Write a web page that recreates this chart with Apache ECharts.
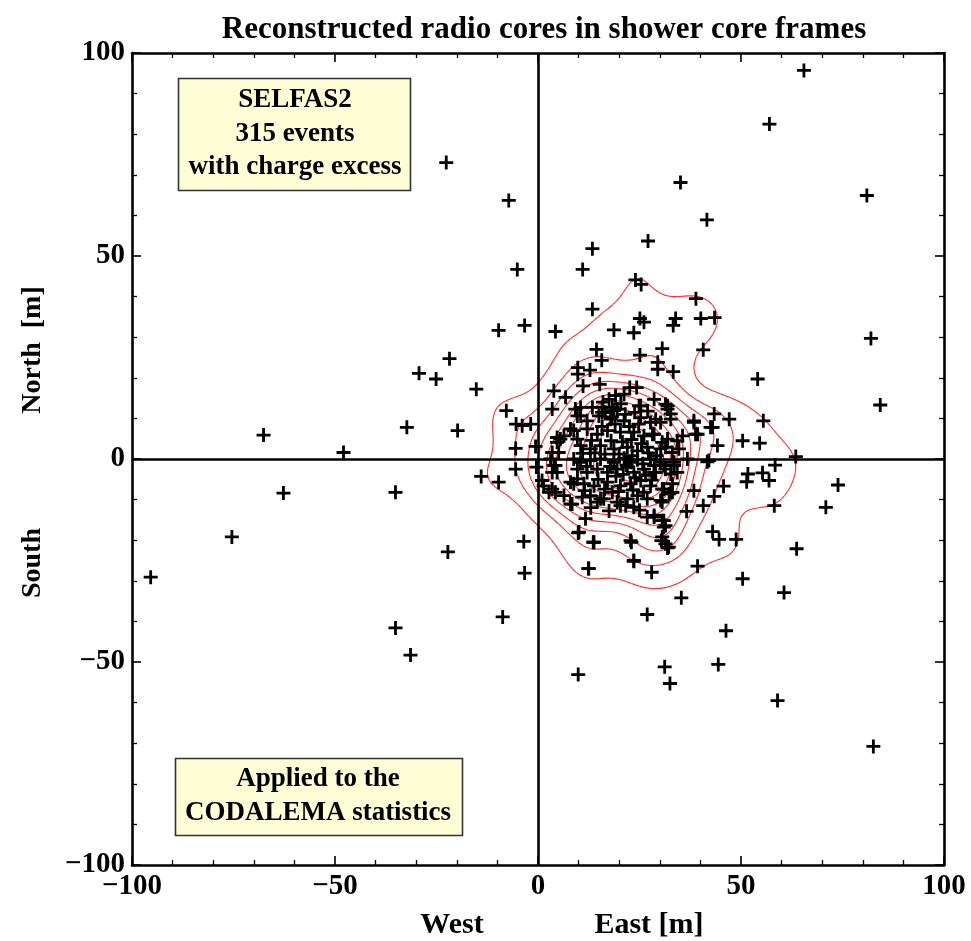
<!DOCTYPE html>
<html><head><meta charset="utf-8">
<script src="https://cdn.jsdelivr.net/npm/echarts@6/dist/echarts.min.js"></script>
<style>html,body{margin:0;padding:0;background:#fff}#c{width:971px;height:941px}</style>
</head><body><div id="c"></div>
<script>
// Axis ranges / ticks
const axisMin = -100, axisMax = 100, majorStep = 50;
// Reconstructed radio core positions [East m, North m] — outer region
const coresWest = [
[-22.6,73.0],[-7.2,63.7],[-5.1,46.7],[-9.7,31.7],[-3.3,32.9],[-21.8,24.7],[-29.3,21.1],[-25.1,19.7],[-15.2,17.2],[-7.8,11.9],
[-5.4,8.6],[-3.9,8.2],[-1.8,8.6],[-32.3,7.8],[-19.8,7.0],[-67.6,5.9],[-47.9,1.6],[-5.5,2.6],[-0.6,3.1],
[-14.0,-4.3],[-9.7,-5.7],[-5.5,-2.5],[-0.4,-2.0],[-62.7,-8.4],[-35.1,-8.2],[-75.4,-19.2],[-22.2,-22.9],[-3.5,-20.3],
[-3.3,-28.1],[-95.4,-29.1],[-8.7,-38.9],[-35.1,-41.6],[-31.4,-48.3]
];
const coresNorthEast = [
[4.3,31.4],[65.5,95.7],[57.0,82.5],[35.1,68.1],[81.0,64.9],[41.6,58.9],[27.1,53.7],[13.4,51.8],[11.0,46.7],[24.0,44.1],
[25.4,43.0],[38.9,39.5],[13.4,36.9],[25.1,34.6],[26.1,33.7],[33.9,34.6],[33.3,32.9],[40.1,34.6],[43.5,34.8],[18.7,31.8],
[23.6,31.1],[82.0,29.7],[14.4,27.0],[30.6,27.2],[40.7,26.9],[25.1,25.6],[15.7,24.3],[29.5,23.8],[29.5,22.1],[33.3,21.5],
[9.8,22.5],[12.8,21.9],[9.8,20.9],[54.1,19.7],[84.3,13.3],[3.9,16.8],[6.8,15.2],[3.5,12.3],[11.1,18.0],[15.2,18.4],
[22.6,17.6],[24.3,17.6],[28.6,14.7],[31.9,13.1],[43.4,11.1],[47.1,9.8],[55.5,9.4],[50.4,4.5],[54.6,3.9],[63.5,0.6],
[38.4,9.0],[43.0,7.8],[44.2,3.3],[38.8,6.1],[35.6,5.7],[5.5,4.9],[3.5,1.6],[5.1,1.6]
];
const coresSouthEast = [
[58.4,-1.5],[51.7,-3.7],[51.4,-5.6],[55.3,-3.4],[56.9,-5.3],[73.9,-6.4],[70.9,-11.9],[58.2,-11.5],[45.7,-6.7],[43.4,-9.2],
[40.7,-11.5],[38.4,-7.8],[36.6,-12.9],[41.7,-0.7],[63.7,-22.1],[48.8,-19.8],[44.6,-19.8],[43.0,-17.9],[39.3,-26.4],[50.4,-29.5],
[60.6,-32.9],[35.3,-34.2],[26.9,-38.3],[46.3,-42.3],[44.4,-50.6],[31.2,-51.2],[32.5,-55.3],[9.9,-53.1],[59.0,-59.5],[82.6,-70.8],
[12.4,-27.0],[28.0,-27.9],[23.6,-25.2],[23.0,-20.5],[13.6,-20.5],[9.9,-18.2],[30.4,-20.1],[31.9,-21.9],[31.0,-16.8],[30.6,-15.2],
[28.6,-14.3],[11.7,-14.7],[8.0,-11.1],[32.3,-8.6],[33.1,-8.2],[30.2,-10.2]
];
// Dense central cluster
const coresCentral = [
[19.1,15.6],[17.5,14.7],[21.2,16.0],
[15.8,12.7],[18.3,12.7],[19.5,12.3],[16.6,11.5],[24.9,13.1],[31.9,12.3],[10.5,12.7],[9.2,12.3],[13.4,12.7],[25.3,13.1],[18.7,11.9],[15.8,11.5],
[9.7,10.6],[12.1,9.4],[15.0,10.6],[17.9,9.8],[21.2,9.4],[25.3,10.2],[27.7,9.0],[30.2,9.0],[32.7,11.1],[32.7,9.8],[29.0,9.8],[38.4,9.4],[31.4,13.5],
[6.4,5.7],[8.8,7.0],[12.1,7.4],[14.6,6.1],[17.1,7.0],[20.3,6.6],[23.6,6.6],[26.1,5.7],[28.6,6.1],[31.9,4.9],[34.3,4.5],[28.2,6.1],[39.3,6.1],[42.5,7.8],
[4.7,4.1],[10.5,3.3],[12.9,2.5],[15.4,3.3],[18.7,2.5],[22.0,2.9],[24.5,2.0],[26.9,2.9],[30.2,2.5],[33.1,1.6],[30.6,4.1],[31.4,2.9],[34.7,2.5],[4.7,5.3],[8.0,7.4],[9.7,4.9],[10.5,10.6],
[3.1,0.0],[8.8,0.0],[10.5,-0.8],[12.9,-0.4],[15.4,0.0],[18.7,-0.8],[21.2,0.2],[22.8,-0.8],[24.5,-0.2],[27.7,0.0],[30.2,-0.8],[33.5,-0.8],[36.8,0.0],[42.1,-0.4],
[9.7,-2.5],[12.1,-3.3],[14.6,-2.5],[17.1,-3.3],[19.5,-2.5],[22.0,-2.0],[23.6,-3.3],[26.1,-2.5],[28.6,-3.3],[31.4,-2.5],[34.3,-3.3],[9.7,-4.9],[28.6,-1.6],[31.0,-1.6],[33.5,-1.6],[29.0,-3.3],[32.7,-3.7],[3.9,-1.6],[3.5,-3.3],[4.3,-1.6],[4.7,-3.3],
[8.0,-5.7],[11.3,-6.1],[13.8,-6.6],[17.1,-5.7],[20.3,-6.6],[22.8,-6.1],[25.3,-5.3],[27.7,-6.6],[30.6,-7.4],[33.1,-6.1],[1.0,-5.3],[1.4,-6.6],[3.5,-7.4],[2.7,-8.2],[4.3,-8.2],[8.8,-6.1],[31.0,-7.4],[32.7,-8.2],
[6.4,-9.0],[12.9,-9.0],[16.2,-9.8],[19.5,-10.6],[22.0,-9.8],[24.5,-9.0],[26.9,-9.8],[18.3,-8.2],[10.9,-9.4],[8.4,-11.1],[15.4,-9.8],[30.6,-10.6],[14.6,-10.6],
[20.3,-11.5],[23.6,-11.9],[21.6,-11.5],[26.9,-14.3],[31.0,-15.2],[31.4,-16.4],[10.1,-18.0],[13.8,-20.5],[22.8,-20.1],[23.6,-25.0],[12.5,-27.0],[28.6,-13.9],[30.6,-19.2],[31.4,-20.9],[32.2,-21.7],
[20.0,1.2],[21.8,-1.5],[23.2,0.8],[25.8,-1.2],[19.2,-4.2],[21.0,-3.8],[24.0,-4.6],[26.5,-4.0],[18.0,4.5],[20.8,4.2],
[23.0,4.8],[25.5,3.8],[16.5,1.2],[14.0,1.5],[17.8,-1.8],[27.2,1.5],[29.2,0.8],[13.2,4.6],[15.8,8.0],[19.0,8.6],
[22.5,8.0],[24.8,8.6],[16.4,-7.4],[19.8,-8.0],[23.4,-7.6],[26.0,-8.2],[12.0,-1.8],[11.0,1.4],[14.8,-5.0],[28.0,-5.2],
[21.5,11.0],[18.2,10.4],[23.8,11.5],[27.0,11.8],[16.0,14.0],[20.4,13.6],[13.0,-12.0],[17.5,-12.8],[25.0,-12.6],[11.5,-7.8]
];
// Density contour levels (fraction of peak density) and kernel bandwidth [m]
const contourLevels = [0.07,0.165,0.26,0.355,0.45,0.545,0.64,0.735,0.83,0.925];
const kernelBandwidth = 5.0;

const cores = coresWest.concat(coresNorthEast, coresSouthEast, coresCentral);

// Kernel density estimate on a grid, then marching squares -> segments
function contourSegments(pts){
  const gx0=-45, gx1=95, gy0=-65, gy1=75, st=1;
  const nx=Math.round((gx1-gx0)/st)+1, ny=Math.round((gy1-gy0)/st)+1;
  const h2=2*kernelBandwidth*kernelBandwidth;
  const g=[]; let mx=0;
  for(let j=0;j<ny;j++){ const row=[]; const y=gy0+j*st;
    for(let i=0;i<nx;i++){ const x=gx0+i*st; let s=0;
      for(const p of pts){ const dx=x-p[0], dy=y-p[1]; const d=dx*dx+dy*dy; if(d<900) s+=Math.exp(-d/h2); }
      row.push(s); if(s>mx) mx=s; }
    g.push(row); }
  const segs=[];
  const table={1:[[3,0]],2:[[0,1]],3:[[3,1]],4:[[1,2]],5:[[3,0],[1,2]],6:[[0,2]],7:[[3,2]],8:[[2,3]],9:[[0,2]],10:[[0,1],[2,3]],11:[[1,2]],12:[[1,3]],13:[[0,1]],14:[[3,0]]};
  for(const f of contourLevels){ const L=f*mx;
    for(let j=0;j<ny-1;j++) for(let i=0;i<nx-1;i++){
      const v0=g[j][i], v1=g[j][i+1], v2=g[j+1][i+1], v3=g[j+1][i];
      const idx=(v0>=L?1:0)|(v1>=L?2:0)|(v2>=L?4:0)|(v3>=L?8:0);
      const t=table[idx]; if(!t) continue;
      const x0=gx0+i*st, y0=gy0+j*st, x1=x0+st, y1=y0+st;
      const ep=e=>{ let a,b,pa,pb;
        if(e===0){a=v0;b=v1;pa=[x0,y0];pb=[x1,y0];}
        else if(e===1){a=v1;b=v2;pa=[x1,y0];pb=[x1,y1];}
        else if(e===2){a=v3;b=v2;pa=[x0,y1];pb=[x1,y1];}
        else {a=v0;b=v3;pa=[x0,y0];pb=[x0,y1];}
        const k=(L-a)/(b-a); return [pa[0]+(pb[0]-pa[0])*k, pa[1]+(pb[1]-pa[1])*k]; };
      for(const s of t){ const p=ep(s[0]), q=ep(s[1]); segs.push([p[0],p[1],q[0],q[1]]); }
    }
  }
  return segs;
}
const segs = contourSegments(cores);

const FONT = '"Liberation Serif","Times New Roman",serif';
const fmt = v => v<0 ? '\u2212'+Math.abs(v) : String(v);
const baseAxis = {
  type:'value', min:axisMin, max:axisMax, interval:majorStep,
  axisLine:{show:true, onZero:false, lineStyle:{color:'#000', width:2.6}},
  axisTick:{show:true, inside:true, length:9, lineStyle:{color:'#000', width:1.6}},
  minorTick:{show:true, splitNumber:5, length:5, lineStyle:{color:'#000', width:1.3}},
  splitLine:{show:false},
  axisLabel:{show:true, color:'#000', fontFamily:FONT, fontWeight:'bold', fontSize:29, formatter:fmt}
};
const chart = echarts.init(document.getElementById('c'), null, {renderer:'canvas'});
chart.setOption({
  animation:false,
  backgroundColor:'#fff',
  title:{text:'Reconstructed radio cores in shower core frames', left:539, textAlign:'center', top:9,
    textStyle:{fontFamily:FONT, fontWeight:'bold', fontSize:31, color:'#000'}},
  grid:{left:132, right:27, top:53, bottom:76, containLabel:false},
  xAxis:[
    Object.assign({}, baseAxis, {position:'bottom', axisLabel:Object.assign({}, baseAxis.axisLabel, {margin:7})}),
    Object.assign({}, baseAxis, {position:'top', axisLabel:{show:false}})
  ],
  yAxis:[
    Object.assign({}, baseAxis, {position:'left', axisLabel:Object.assign({}, baseAxis.axisLabel, {margin:7})}),
    Object.assign({}, baseAxis, {position:'right', axisLabel:{show:false}})
  ],
  graphic:[
    {type:'text', style:{text:'North  [m]', fontFamily:FONT, fontWeight:'bold', fontSize:28, fill:'#000', align:'center', verticalAlign:'middle'}, x:33, y:350, rotation:Math.PI/2},
    {type:'text', style:{text:'South', fontFamily:FONT, fontWeight:'bold', fontSize:28, fill:'#000', align:'center', verticalAlign:'middle'}, x:33, y:563, rotation:Math.PI/2},
    {type:'text', style:{text:'West', fontFamily:FONT, fontWeight:'bold', fontSize:30, fill:'#000', align:'center', verticalAlign:'middle'}, x:452, y:925},
    {type:'text', style:{text:'East [m]', fontFamily:FONT, fontWeight:'bold', fontSize:30, fill:'#000', align:'center', verticalAlign:'middle'}, x:649, y:925},
    {type:'rect', shape:{x:178.5, y:78.5, width:232, height:112}, style:{fill:'#fdfdd6', stroke:'#333', lineWidth:1.6}, z:10},
    {type:'text', style:{text:'SELFAS2\n315 events\nwith charge excess', fontFamily:FONT, fontWeight:'bold', fontSize:27, lineHeight:33.5, fill:'#000', align:'center', verticalAlign:'middle'}, x:295, y:134, z:11},
    {type:'rect', shape:{x:175.5, y:758.5, width:287, height:77}, style:{fill:'#fdfdd6', stroke:'#333', lineWidth:1.6}, z:10},
    {type:'text', style:{text:'Applied to the\nCODALEMA statistics', fontFamily:FONT, fontWeight:'bold', fontSize:27, lineHeight:33.5, fill:'#000', align:'center', verticalAlign:'middle'}, x:318, y:796, z:11}
  ],
  series:[
    {type:'custom', coordinateSystem:'cartesian2d', xAxisIndex:0, yAxisIndex:0, silent:true, z:1,
     data:segs, encode:{x:[0,2], y:[1,3]},
     renderItem:function(params, api){
       const p=api.coord([api.value(0),api.value(1)]), q=api.coord([api.value(2),api.value(3)]);
       return {type:'line', shape:{x1:p[0],y1:p[1],x2:q[0],y2:q[1]}, style:{stroke:'#ff2b2b', lineWidth:1.1}};
     }},
    {type:'scatter', xAxisIndex:0, yAxisIndex:0, silent:true, z:3,
     symbol:'path://M5.6,0h2.8v5.6h5.6v2.8h-5.6v5.6h-2.8v-5.6h-5.6v-2.8h5.6z', symbolSize:14,
     itemStyle:{color:'#000', opacity:1},
     data:cores,
     markLine:{silent:true, symbol:['none','none'], label:{show:false}, animation:false,
       lineStyle:{color:'#000', width:2.6, type:'solid'},
       emphasis:{disabled:true},
       data:[{xAxis:0},{yAxis:0}]}}
  ]
});
</script></body></html>
